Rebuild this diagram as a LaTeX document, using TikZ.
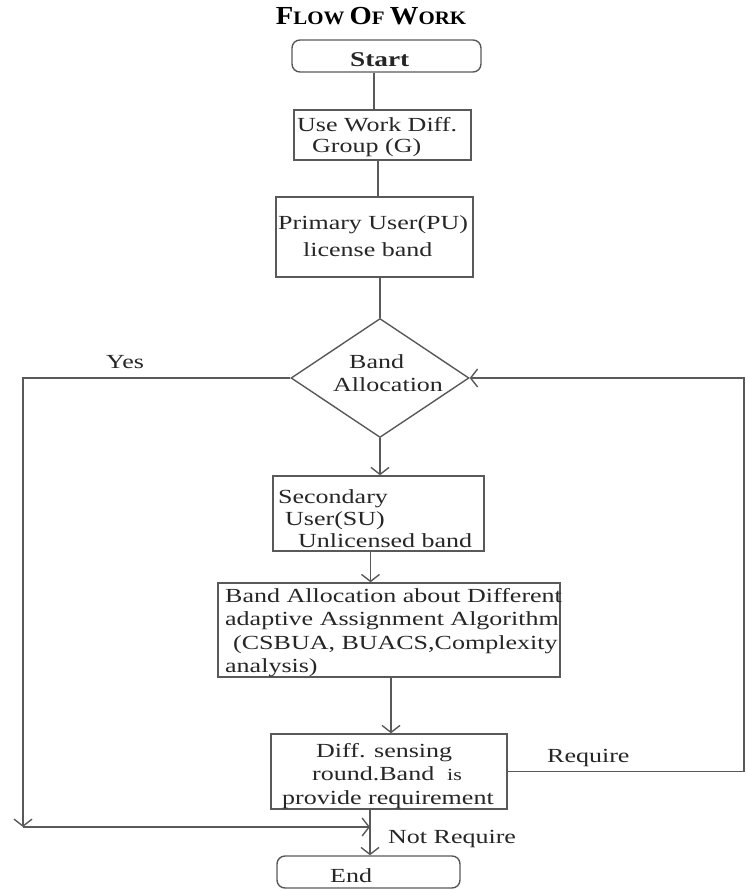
\documentclass[tikz,border=0pt]{standalone}
\usepackage{fontspec}
\setmainfont{Liberation Serif}
\newfontfamily\wf[FakeStretch=1.3]{Liberation Serif}
\newfontfamily\tf[FakeStretch=1.1]{Liberation Serif}
\usetikzlibrary{arrows.meta,shapes.geometric}
\begin{document}
\begin{tikzpicture}[x=1pt,y=-1pt,
  box/.style={draw=black!65, line width=1.4pt, inner sep=0pt},
  tx/.style={anchor=base west, inner sep=0pt, font=\wf\fontsize{20}{24}\selectfont, text=black!85},
  ln/.style={draw=black!65, line width=1.4pt},
  arr/.style={ln, -{Straight Barb[length=7pt,width=18pt]}},
]
\useasboundingbox (0,0) rectangle (745,890);

% title
\node[anchor=base, inner sep=0pt, font=\tf\bfseries] (title) at (371,25)
  {\fontsize{26}{26}\selectfont F\fontsize{19}{19}\selectfont LOW \fontsize{26}{26}\selectfont O\fontsize{19}{19}\selectfont F \fontsize{26}{26}\selectfont W\fontsize{19}{19}\selectfont ORK};

% boxes
\node[box, rounded corners=8pt, minimum width=189pt, minimum height=32pt] (start) at (386.5,56) {};
\node[box, minimum width=177pt, minimum height=50pt] (use) at (382.5,135) {};
\node[box, minimum width=197pt, minimum height=80pt] (prim) at (374.5,237) {};
\node[box, diamond, minimum width=178pt, minimum height=119pt] (dia) at (380,378) {};
\node[box, minimum width=211pt, minimum height=75pt] (sec) at (378.5,513.5) {};
\node[box, minimum width=342pt, minimum height=94pt] (alloc) at (389,630) {};
\node[box, minimum width=236pt, minimum height=75pt] (diff) at (389,771.5) {};
\node[box, rounded corners=8pt, minimum width=183pt, minimum height=32pt] (endb) at (368.5,872) {};

% texts
\node[tx, font=\wf\bfseries\fontsize{21}{24}\selectfont] (tstart) at (350,67) {Start};
\node[tx] (tuse1) at (297,132) {Use Work Diff.};
\node[tx] (tuse2) at (312,153) {Group (G)};
\node[tx] (tprim1) at (278,230) {Primary User(PU)};
\node[tx] (tprim2) at (303,257) {license band};
\node[tx] (tdia1) at (349,368) {Band};
\node[tx] (tdia2) at (333,391) {Allocation};
\node[tx] (tsec1) at (278,503) {Secondary};
\node[tx] (tsec2) at (285,525) {User(SU)};
\node[tx] (tsec3) at (298,547) {Unlicensed band};
\node[tx] (tal1) at (225,602) {Band Allocation about Different};
\node[tx] (tal2) at (225,625) {adaptive Assignment Algorithm};
\node[tx] (tal3) at (233,649) {(CSBUA, BUACS,Complexity};
\node[tx] (tal4) at (225,672) {analysis)};
\node[tx] (tdf1) at (316,757) {Diff. sensing};
\node[tx] (tdf2) at (312,780) {round.Band\ \ {\fontsize{17}{20}\selectfont is}};
\node[tx] (tdf3) at (282,804) {provide requirement};
\node[tx] (tend) at (330,882) {End};
\node[tx] (lyes) at (106,368) {Yes};
\node[tx] (lreq) at (547,762) {Require};
\node[tx] (lnreq) at (388,843) {Not Require};

% connectors
\draw[ln] ([xshift=-12.5pt]start.south) -- ([xshift=-8.5pt]use.north);
\draw[ln] ([xshift=-4.5pt]use.south) -- ([xshift=3.5pt]prim.north);
\draw[ln] ([xshift=5.5pt]prim.south) -- (dia.north);
\draw[arr] (dia.south) -- ([xshift=1.5pt]sec.north);
\draw[arr] ([xshift=-8pt]sec.south) -- ([xshift=-18.5pt]alloc.north);
\draw[arr] ([xshift=2pt]alloc.south) -- ([xshift=2pt]diff.north);
\draw[arr] ([xshift=-19pt]diff.south) -- ([xshift=1.5pt]endb.north);

\coordinate (yc) at (23,827);
\coordinate (ym) at (370,827);
\draw[arr] (dia.west) -| (yc);
\draw[arr] (yc) -- (ym);

\coordinate (rc) at (744,0);
\draw[arr] (diff.east) -- (diff.east -| rc) -- (dia.east -| rc) -- (dia.east);
\end{tikzpicture}
\end{document}
